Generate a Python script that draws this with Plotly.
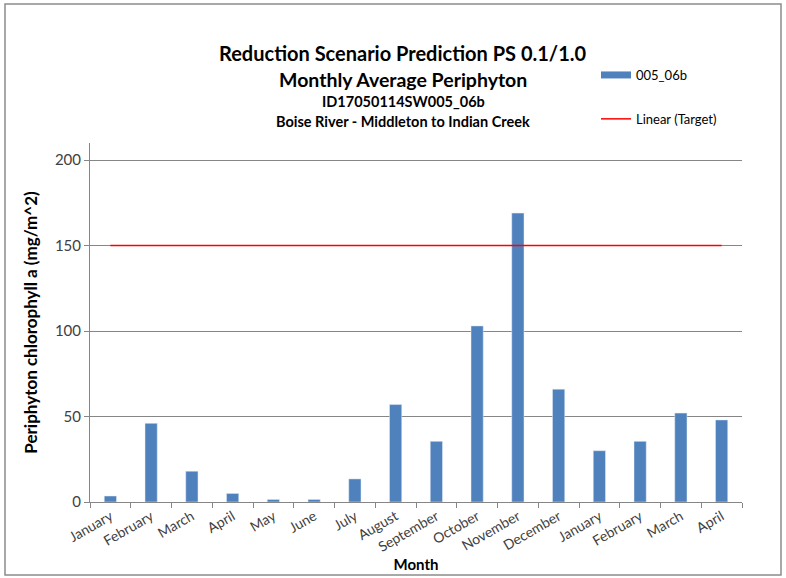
import plotly.graph_objects as go

months = ["January", "February", "March", "April", "May", "June", "July", "August",
          "September", "October", "November", "December", "January", "February",
          "March", "April"]
periphyton = [3.5, 46, 18, 5, 1.5, 1.5, 13.5, 57, 35.5, 103, 169, 66, 30, 35.5, 52, 48]
target = [150] * len(months)

# unique category keys so repeated month names stay separate
keys = [f"{i}" for i in range(len(months))]

W, H = 786, 578
L, R, T, B = 90, 44, 143, 76
pw, ph = W - L - R, H - T - B

def px_x(x):
    return (x - L) / pw

def px_y(y):
    return (H - B - y) / ph

font = "Lato, 'Open Sans', sans-serif"
BLUE = "#4F81BD"

fig = go.Figure()
fig.add_trace(go.Bar(x=keys, y=periphyton, name="005_06b", marker_color=BLUE,
                     width=0.3, showlegend=False))
# wide swatch for the bar series legend entry
fig.add_trace(go.Scatter(x=[None], y=[None], name="005_06b", mode="lines",
                         line=dict(color=BLUE, width=7), legendgroup="a"))
fig.add_trace(go.Scatter(x=keys, y=target, name="Linear (Target)", mode="lines",
                         line=dict(color="#FF0000", width=1.5), legendgroup="b"))

titles = [("Reduction Scenario Prediction PS 0.1/1.0", 39, 20),
          ("Monthly Average Periphyton", 66, 19.5),
          ("ID17050114SW005_06b", 91, 14.5),
          ("Boise River - Middleton to Indian Creek", 111, 14.5)]
for text, y, size in titles:
    fig.add_annotation(text=f"<b>{text}</b>", xref="paper", yref="paper",
                       x=px_x(403), y=px_y(y), showarrow=False,
                       font=dict(size=size, color="#000000", family=font))

fig.add_shape(type="rect", xref="paper", yref="paper",
              x0=px_x(5), x1=px_x(781), y0=px_y(575), y1=px_y(4),
              line=dict(color="#8C8C8C", width=1.5), layer="below")

fig.update_layout(
    width=W, height=H, margin=dict(l=L, r=R, t=T, b=B),
    plot_bgcolor="white", paper_bgcolor="white",
    font=dict(family=font, color="#404040"),
    bargap=0.7,
    legend=dict(x=px_x(596), y=px_y(60), xanchor="left", yanchor="top",
                font=dict(size=13, color="#000000"), tracegroupgap=24,
                bgcolor="rgba(0,0,0,0)"),
    xaxis=dict(tickmode="array", tickvals=keys, ticktext=months, tickangle=-30,
               tickfont=dict(size=14, color="#404040"), ticks="outside",
               tickson="boundaries", ticklen=5, tickcolor="#868686",
               showline=True, linecolor="#868686", linewidth=1, automargin=False,
               title=dict(text="<b>Month</b>", font=dict(size=15, color="#000000"),
                          standoff=4)),
    yaxis=dict(range=[0, 210], tickvals=[0, 50, 100, 150, 200], ticks="outside",
               ticklen=5, tickcolor="#868686", showline=True, linecolor="#868686",
               gridcolor="#868686", gridwidth=1, zeroline=False, automargin=False,
               tickfont=dict(size=15, color="#404040"),
               title=dict(text="<b>Periphyton chlorophyll a (mg/m^2)</b>",
                          font=dict(size=17, color="#000000"), standoff=12)),
)

fig.write_html("out.html")
